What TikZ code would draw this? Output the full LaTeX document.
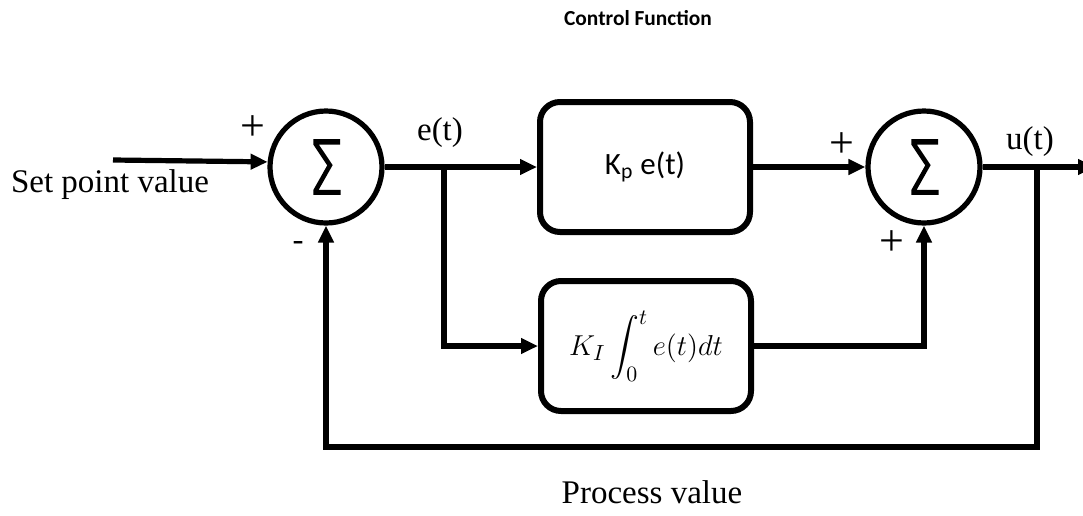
\documentclass[tikz,border=0pt]{standalone}
\usepackage{amsmath}
\usepackage{fontspec}
\setmainfont{Liberation Serif}
\newfontfamily\calibri{Carlito}
\newfontfamily\sigmafont[FakeBold=3]{DejaVu Sans ExtraLight}
\usepackage{tikz}
\usetikzlibrary{arrows.meta}
\usetikzlibrary{positioning}

\begin{document}
\begin{tikzpicture}[x=0.5pt, y=-0.5pt, line width=2.6pt,
	sumnode/.style={draw, circle, minimum size=56pt, inner sep=0pt, font=\sigmafont\fontsize{32}{32}\selectfont},
	block/.style={draw, rounded corners=10pt, minimum width=105pt, minimum height=65pt, line width=3pt},
	lbl/.style={inner sep=0pt, font=\fontsize{16.5}{19}\selectfont},
	sign/.style={inner sep=0pt, font=\fontsize{22}{22}\selectfont},
	>={Triangle[length=8.5pt, width=7.5pt]}]
	\useasboundingbox (0,0) rectangle (1083,515);

	\node[font=\calibri\bfseries\fontsize{10.7}{12}\selectfont] (title) at (638,18) {Control Function};

	\node[sumnode] (sum1) at (326,167) {\scalebox{0.85}[1.15]{Σ}};
	\node[sumnode] (sum2) at (924,167) {\scalebox{0.85}[1.15]{Σ}};
	\node[block, font=\calibri\fontsize{15.5}{18}\selectfont] (kp) at (645,167) {K\textsubscript{p} e(t)};
	\node[block, font=\fontsize{15.5}{18}\selectfont] (ki) at (646,346) {$K_I\displaystyle\int_0^t e(t)dt$};

	\node[lbl] (setpt) at (110,185) {Set point value};
	\node[lbl] (pv) at (652,492) {Process value};
	\node[lbl] (et) at (440,133) {e(t)};
	\node[lbl] (ut) at (1030,142) {u(t)};
	\node[sign] (plus1) at (253,128) {+};
	\node[lbl] (minus1) at (298,246) {-};
	\node[sign] (plus2) at (842,145) {+};
	\node[sign] (plus3) at (892,243) {+};

	\coordinate (spin) at (113,160);
	\coordinate (ebr) at (444,167);
	\coordinate (ubr) at (1037,167);
	\coordinate (uout) at (1095,167);
	\coordinate (fbot) at (1037,447);

	\draw[->] (spin) -- (sum1.175);
	\draw[->] (sum1) -- (kp);
	\draw[->] (ebr) |- (ki);
	\draw[->] (kp) -- (sum2);
	\draw[->] (ki) -| (sum2);
	\draw[->] (sum2) -- (uout);
	\draw[->] (ubr) -- (fbot) -| (sum1);
\end{tikzpicture}
\end{document}
